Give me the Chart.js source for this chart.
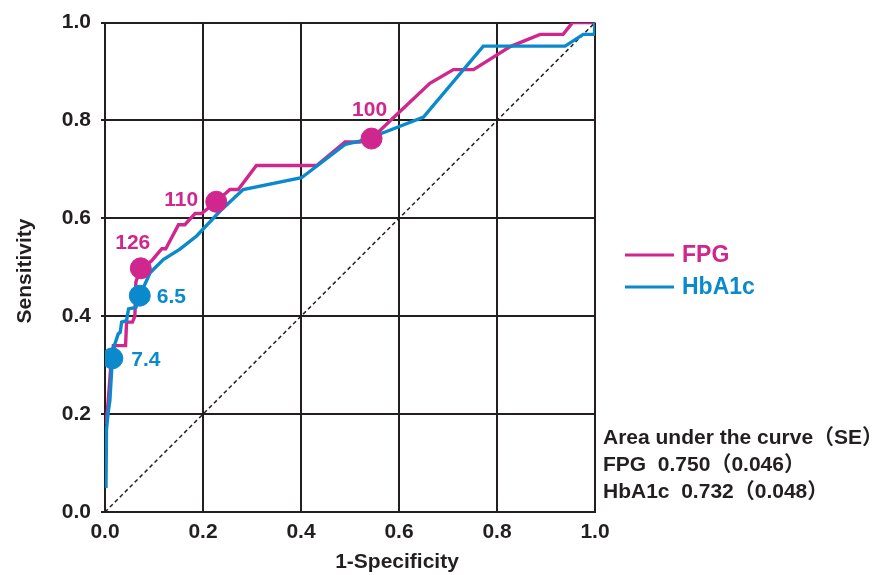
<!DOCTYPE html>
<html><head><meta charset="utf-8">
<script src="https://cdn.jsdelivr.net/npm/chart.js@4/dist/chart.umd.min.js"></script>
<style>html,body{margin:0;padding:0;background:#fff}#wrap{width:889px;height:575px;position:relative}</style>
</head><body><div id="wrap"><canvas id="c" width="889" height="575"></canvas></div>
<script>
// ---- data ----
const fpgX = [0.002,0.006,0.012,0.017,0.042,0.044,0.056,0.061,0.063,0.073,0.095,0.116,0.124,0.150,0.163,0.184,0.197,0.227,0.255,0.272,0.309,0.432,0.490,0.520,0.544,0.588,0.663,0.711,0.752,0.827,0.888,0.935,0.954,1.0];
const fpgY = [0.18,0.22,0.30,0.340,0.340,0.388,0.388,0.40,0.47,0.498,0.513,0.538,0.538,0.587,0.587,0.610,0.610,0.634,0.659,0.659,0.708,0.708,0.756,0.756,0.763,0.805,0.876,0.904,0.904,0.951,0.976,0.976,1.0,1.0];
const hbaX = [0.002,0.003,0.006,0.010,0.015,0.020,0.027,0.031,0.034,0.044,0.048,0.063,0.071,0.092,0.119,0.153,0.187,0.235,0.282,0.401,0.490,0.520,0.568,0.650,0.772,0.939,0.976,0.999,1.0];
const hbaY = [0.049,0.167,0.20,0.228,0.314,0.343,0.364,0.367,0.388,0.391,0.415,0.418,0.442,0.489,0.516,0.537,0.564,0.615,0.659,0.683,0.751,0.758,0.775,0.807,0.952,0.952,0.976,0.976,1.0];
const fpgCutX = [0.073,0.227,0.544];
const fpgCutY = [0.498,0.634,0.763];
const fpgCutLabels = ['126','110','100'];
const hbaCutX = [0.071,0.015];
const hbaCutY = [0.442,0.314];
const hbaCutLabels = ['6.5','7.4'];
const refX = [0,1];
const refY = [0,1];
const tickValues = [0,0.2,0.4,0.6,0.8,1.0];
const seriesNames = ['FPG','HbA1c'];
const aucLines = ['Area under the curve（SE）','FPG\u00a0\u00a00.750（0.046）','HbA1c\u00a0\u00a00.732（0.048）'];
const xTitle = '1-Specificity';
const yTitle = 'Sensitivity';

// ---- styles ----
const MAG = '#D0278E';
const BLU = '#0A8ACC';
const INK = '#231F20';
const FONT = '"Liberation Sans", Arial, "Noto Sans CJK JP", sans-serif';

const pts = (xs, ys) => xs.map((x, i) => ({x, y: ys[i]}));

const labelOffsets = {
  fpg: [[-8,-25,'center'],[-18,-2,'right'],[-2,-28,'center']],
  hba: [[17,2,'left'],[19,2,'left']]
};

const overlay = {
  id: 'overlay',
  afterDraw(chart) {
    const ctx = chart.ctx, xs = chart.scales.x, ys = chart.scales.y;
    ctx.save();
    ctx.textBaseline = 'middle';
    ctx.font = 'bold 21px ' + FONT;
    fpgCutLabels.forEach((t, i) => {
      const o = labelOffsets.fpg[i];
      ctx.fillStyle = MAG; ctx.textAlign = o[2];
      ctx.fillText(t, xs.getPixelForValue(fpgCutX[i]) + o[0], ys.getPixelForValue(fpgCutY[i]) + o[1]);
    });
    hbaCutLabels.forEach((t, i) => {
      const o = labelOffsets.hba[i];
      ctx.fillStyle = BLU; ctx.textAlign = o[2];
      ctx.fillText(t, xs.getPixelForValue(hbaCutX[i]) + o[0], ys.getPixelForValue(hbaCutY[i]) + o[1]);
    });
    const cols = [MAG, BLU];
    const ly = [255, 287];
    seriesNames.forEach((n, i) => {
      ctx.strokeStyle = cols[i]; ctx.lineWidth = 3;
      ctx.beginPath(); ctx.moveTo(625, ly[i]); ctx.lineTo(674, ly[i]); ctx.stroke();
      ctx.fillStyle = cols[i]; ctx.textAlign = 'left';
      ctx.font = 'bold 23px ' + FONT;
      ctx.fillText(n, 682, ly[i] + 1);
    });
    ctx.fillStyle = INK; ctx.font = 'bold 21px ' + FONT; ctx.textAlign = 'left';
    aucLines.forEach((t, i) => ctx.fillText(t, 603, 438 + i * 27));
    ctx.font = 'bold 21px ' + FONT; ctx.textAlign = 'center';
    ctx.fillText(xTitle, 397, 562);
    ctx.save();
    ctx.translate(25, 271); ctx.rotate(-Math.PI / 2);
    ctx.fillText(yTitle, 0, 0);
    ctx.restore();
    ctx.restore();
  }
};

new Chart(document.getElementById('c'), {
  type: 'scatter',
  data: {
    datasets: [
      {data: pts(hbaCutX, hbaCutY), backgroundColor: BLU, borderColor: BLU, pointRadius: 10.5, pointHoverRadius: 10.5, showLine: false, order: 0},
      {data: pts(fpgCutX, fpgCutY), backgroundColor: MAG, borderColor: MAG, pointRadius: 10.5, pointHoverRadius: 10.5, showLine: false, order: 1},
      {data: pts(hbaX, hbaY), borderColor: BLU, borderWidth: 3.4, pointRadius: 0, showLine: true, tension: 0, order: 2},
      {data: pts(fpgX, fpgY), borderColor: MAG, borderWidth: 3.4, pointRadius: 0, showLine: true, tension: 0, order: 3},
      {data: pts(refX, refY), borderColor: INK, borderWidth: 1.5, borderDash: [4, 3], pointRadius: 0, showLine: true, order: 4}
    ]
  },
  options: {
    responsive: false,
    animation: false,
    devicePixelRatio: 1,
    layout: {padding: {left: 0, top: 21, right: 294, bottom: 0}},
    plugins: {legend: {display: false}, tooltip: {enabled: false}},
    scales: {
      x: {
        type: 'linear', min: 0, max: 1,
        afterBuildTicks: s => { s.ticks = tickValues.map(v => ({value: v})); },
        afterFit: s => { s.height = 63; },
        grid: {color: INK, lineWidth: 2, drawTicks: false},
        border: {display: true, color: INK, width: 2},
        ticks: {padding: 8, color: INK, font: {family: FONT, size: 21, weight: 'bold'}, callback: v => v.toFixed(1), maxRotation: 0}
      },
      y: {
        type: 'linear', min: 0, max: 1,
        afterBuildTicks: s => { s.ticks = tickValues.map(v => ({value: v})); },
        afterFit: s => { s.width = 105; },
        grid: {color: INK, lineWidth: 2, drawTicks: true, tickLength: 4},
        border: {display: true, color: INK, width: 2},
        ticks: {padding: 10, color: INK, font: {family: FONT, size: 21, weight: 'bold'}, callback: v => v.toFixed(1)}
      }
    }
  },
  plugins: [overlay]
});
</script>
</body></html>
